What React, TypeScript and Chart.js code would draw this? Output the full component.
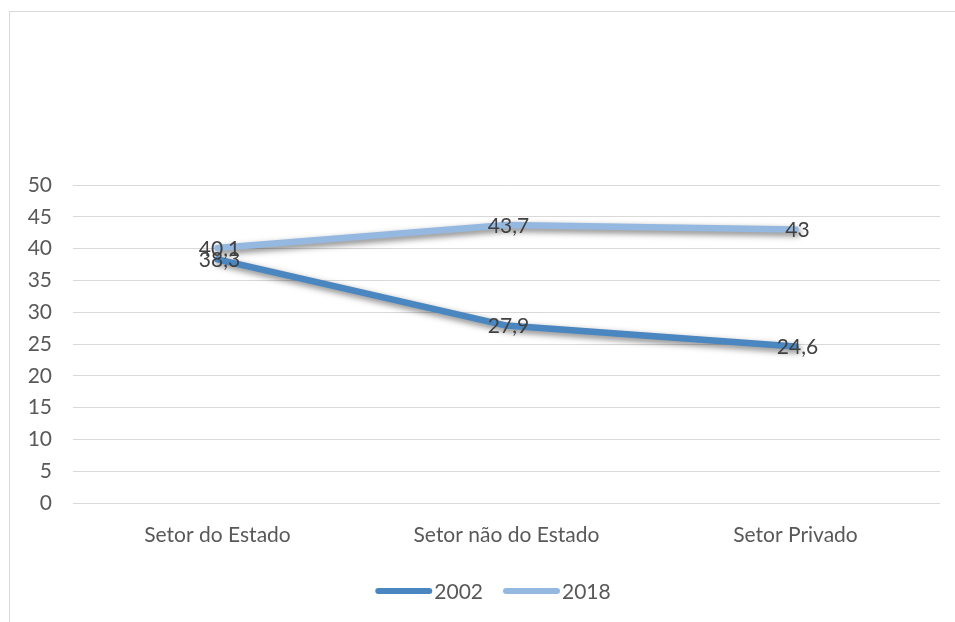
import React, { useEffect, useRef } from "react";
import { Chart, registerables } from "chart.js";

Chart.register(...registerables);

const categories = ["Setor do Estado", "Setor não do Estado", "Setor Privado"];
const series2002 = [38.3, 27.9, 24.6];
const series2018 = [40.1, 43.7, 43];
const seriesNames = ["2002", "2018"];
const colors = ["#4a86c0", "#95b8e1"];

const FONT = "Lato, 'Open Sans', sans-serif";
const FS = 21;

const shadowPlugin = {
  id: "lineShadow",
  beforeDatasetDraw(chart: any) {
    const ctx = chart.ctx;
    ctx.save();
    ctx.shadowColor = "rgba(0,0,0,0.5)";
    ctx.shadowBlur = 6;
    ctx.shadowOffsetX = 2;
    ctx.shadowOffsetY = 3;
  },
  afterDatasetDraw(chart: any) {
    chart.ctx.restore();
  },
};

const labelPlugin = {
  id: "pointLabels",
  afterDatasetsDraw(chart: any) {
    const ctx = chart.ctx;
    ctx.save();
    ctx.font = `${FS}px ${FONT}`;
    ctx.fillStyle = "#404040";
    ctx.textAlign = "center";
    ctx.textBaseline = "middle";
    chart.data.datasets.forEach((ds: any, i: number) => {
      const meta = chart.getDatasetMeta(i);
      meta.data.forEach((pt: any, j: number) => {
        const v = ds.data[j];
        const txt = String(v).replace(".", ",");
        ctx.fillText(txt, pt.x + 2, pt.y + 1);
      });
    });
    ctx.restore();
  },
};

const legendPlugin = {
  id: "customLegend",
  afterDraw(chart: any) {
    const ctx = chart.ctx;
    ctx.save();
    ctx.font = `${FS}px ${FONT}`;
    ctx.textBaseline = "middle";
    ctx.textAlign = "left";
    const lineW = 57;
    const gap1 = 2;
    const gap2 = 20;
    const items = chart.data.datasets.map((ds: any) => ({
      text: ds.label,
      color: ds.borderColor,
      w: lineW + gap1 + ctx.measureText(ds.label).width,
    }));
    const total = items.reduce((s: number, it: any) => s + it.w, 0) + gap2 * (items.length - 1);
    let x = 493 - total / 2;
    const y = 591;
    items.forEach((it: any) => {
      ctx.strokeStyle = it.color;
      ctx.lineWidth = 6;
      ctx.lineCap = "round";
      ctx.beginPath();
      ctx.moveTo(x + 3, y);
      ctx.lineTo(x + lineW - 3, y);
      ctx.stroke();
      ctx.fillStyle = "#595959";
      ctx.fillText(it.text, x + lineW + gap1, y + 1);
      x += it.w + gap2;
    });
    ctx.restore();
  },
};

export default function App() {
  const ref = useRef<HTMLCanvasElement>(null);
  useEffect(() => {
    document.body.style.margin = "0";
    document.body.style.overflow = "hidden";
    const chart = new Chart(ref.current!, {
      type: "line",
      data: {
        labels: categories,
        datasets: [
          {
            label: seriesNames[0],
            data: series2002,
            borderColor: colors[0],
            backgroundColor: colors[0],
            borderWidth: 6.5,
            pointRadius: 0,
            borderCapStyle: "round",
            borderJoinStyle: "round",
          },
          {
            label: seriesNames[1],
            data: series2018,
            borderColor: colors[1],
            backgroundColor: colors[1],
            borderWidth: 6.5,
            pointRadius: 0,
            borderCapStyle: "round",
            borderJoinStyle: "round",
          },
        ],
      },
      options: {
        animation: false,
        responsive: false,
        layout: { padding: { top: 185, right: 15, bottom: 50, left: 0 } },
        plugins: {
          tooltip: { enabled: false },
          legend: { display: false },
        },
        scales: {
          x: {
            offset: true,
            grid: { display: false },
            border: { display: false },
            ticks: {
              font: { family: FONT, size: FS },
              color: "#595959",
              padding: 12,
              maxRotation: 0,
            },
            afterFit(scale: any) {
              scale.height = 69;
            },
          },
          y: {
            min: 0,
            max: 50,
            ticks: {
              stepSize: 5,
              font: { family: FONT, size: FS },
              color: "#595959",
              padding: 21,
            },
            grid: { color: "#d9d9d9", lineWidth: 1, drawTicks: false },
            border: { display: false },
            afterFit(scale: any) {
              scale.width = 73;
            },
          },
        },
      },
      plugins: [shadowPlugin, labelPlugin, legendPlugin],
    });
    return () => chart.destroy();
  }, []);
  return (
    <div style={{ position: "relative", width: 955, height: 622, overflow: "hidden", background: "#fff" }}>
      <div
        style={{
          position: "absolute",
          left: 9,
          top: 11,
          width: 1000,
          height: 700,
          borderTop: "1px solid #d9d9d9",
          borderLeft: "1px solid #d9d9d9",
        }}
      />
      <canvas ref={ref} width={955} height={622} style={{ position: "absolute", left: 0, top: 0 }} />
    </div>
  );
}
